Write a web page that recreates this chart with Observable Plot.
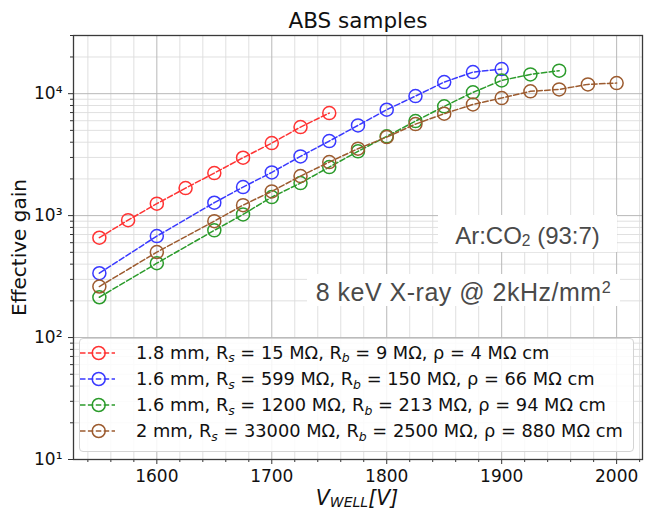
<!DOCTYPE html>
<html><head><meta charset="utf-8">
<script src="https://cdn.jsdelivr.net/npm/d3@7"></script>
<script src="https://cdn.jsdelivr.net/npm/@observablehq/plot@0.6"></script>
<style>
body{margin:0;background:#fff;}
#wrap{position:relative;width:664px;height:520px;font-family:"DejaVu Sans",sans-serif;color:#111;}
#wrap svg{position:absolute;left:0;top:0;}
.note{position:absolute;background:#fff;font-family:"Liberation Sans",Arial,sans-serif;font-size:24px;color:#4a4a4a;text-align:center;white-space:nowrap;}
.note span{position:absolute;left:0;right:0;line-height:1.117em;}
.note sub{font-size:0.65em;vertical-align:baseline;position:relative;top:0.12em;}
.note sup{font-size:0.65em;vertical-align:baseline;position:relative;top:-0.45em;}
#legend{position:absolute;left:79px;top:338px;width:555px;height:114px;box-sizing:border-box;background:rgba(255,255,255,0.85);border:1px solid #d4d4d4;border-radius:4px;}
.row{position:absolute;left:0;height:26px;line-height:26px;font-size:17.8px;white-space:nowrap;}
.row svg{position:absolute;left:5px;top:0;}
.row .lbl{position:absolute;left:56px;top:0;}
.row sub{font-size:0.7em;vertical-align:baseline;position:relative;top:0.28em;font-style:italic;}
#xlabel{position:absolute;left:257px;width:200px;top:487px;text-align:center;font-size:20.5px;line-height:1.164em;font-style:italic;white-space:nowrap;}
#xlabel sub{font-size:14px;vertical-align:baseline;position:relative;top:1.5px;}
</style></head><body><div id="wrap"></div>
<script>
// ---- data ----
const thickness = ["1.8", "1.6", "1.6", "2"];
const rsValues = ["15", "599", "1200", "33000"];
const rbValues = ["9", "150", "213", "2500"];
const rhoValues = ["4", "66", "94", "880"];
const seriesColors = ["#ff3333", "#3939ff", "#2b9b2b", "#9c5b2f"];

const voltsRed = [1550, 1575, 1600, 1625, 1650, 1675, 1700, 1725, 1750];
const gainRed = [659, 918, 1253, 1681, 2233, 2985, 3934, 5321, 6934];

const voltsBlue = [1550, 1600, 1650, 1675, 1700, 1725, 1750, 1775, 1800, 1825, 1850, 1875, 1900];
const gainBlue = [337, 679, 1276, 1713, 2262, 3060, 4084, 5495, 7389, 9550, 12450, 15030, 15920];

const voltsGreen = [1550, 1600, 1650, 1675, 1700, 1725, 1750, 1775, 1800, 1825, 1850, 1875, 1900, 1925, 1950];
const gainGreen = [214, 407, 757, 1023, 1419, 1849, 2500, 3365, 4467, 5957, 7870, 10250, 12850, 14390, 15450];

const voltsBrown = [1550, 1600, 1650, 1675, 1700, 1725, 1750, 1775, 1800, 1825, 1850, 1875, 1900, 1925, 1950, 1975, 2000];
const gainBrown = [262, 502, 901, 1219, 1580, 2110, 2747, 3539, 4406, 5630, 6853, 8163, 9204, 10450, 10840, 11920, 12220];

const xMajorTicks = [1600, 1700, 1800, 1900, 2000];
const xMinorTicks = [1540, 1560, 1580, 1620, 1640, 1660, 1680, 1720, 1740, 1760, 1780, 1820, 1840, 1860, 1880, 1920, 1940, 1960, 1980, 2020];
const yMajorTicks = [10, 100, 1000, 10000];
const yMinorTicks = [20, 30, 40, 50, 60, 70, 80, 90, 200, 300, 400, 500, 600, 700, 800, 900,
  2000, 3000, 4000, 5000, 6000, 7000, 8000, 9000, 20000, 30000];
const superscripts = {1: "¹", 2: "²", 3: "³", 4: "⁴"};

const titleText = "ABS samples";
const yLabelText = "Effective gain";

// ---- build ----
const volts = [voltsRed, voltsBlue, voltsGreen, voltsBrown];
const gains = [gainRed, gainBlue, gainGreen, gainBrown];
const series = volts.map((vs, i) => vs.map((v, j) => ({v, g: gains[i][j]})));

const dataMarks = [];
series.forEach((data, i) => {
  dataMarks.push(Plot.line(data, {x: "v", y: "g", stroke: seriesColors[i], strokeWidth: 1.5, strokeDasharray: "5.5,2.4"}));
  dataMarks.push(Plot.dot(data, {x: "v", y: "g", stroke: seriesColors[i], strokeWidth: 1.5, r: 6.5, fill: "none"}));
});

const chart = Plot.plot({
  width: 664,
  height: 520,
  marginLeft: 73,
  marginRight: 22,
  marginTop: 35,
  marginBottom: 61,
  style: {fontFamily: "DejaVu Sans", fontSize: "17px", background: "transparent", color: "#111", overflow: "visible"},
  x: {domain: [1527.5, 2022.5]},
  y: {type: "log", domain: [10, 30000]},
  marks: [
    Plot.gridX(xMinorTicks, {stroke: "#dcdcdc", strokeOpacity: 1, strokeWidth: 0.9}),
    Plot.gridY(yMinorTicks, {stroke: "#dcdcdc", strokeOpacity: 1, strokeWidth: 0.9}),
    Plot.gridX(xMajorTicks, {stroke: "#b8b8b8", strokeOpacity: 1, strokeWidth: 1}),
    Plot.gridY(yMajorTicks, {stroke: "#b8b8b8", strokeOpacity: 1, strokeWidth: 1}),
    Plot.axisX(xMinorTicks, {tickSize: 3, tickFormat: () => "", label: null, stroke: "#333"}),
    Plot.axisX(xMajorTicks, {tickSize: 5, tickPadding: 5.5, tickFormat: d => String(d), label: null, fontSize: 17, stroke: "#333"}),
    Plot.axisY(yMinorTicks, {tickSize: 3, tickFormat: () => "", label: null, stroke: "#333"}),
    Plot.axisY(yMajorTicks, {tickSize: 5, tickPadding: 6, tickFormat: d => "10" + superscripts[Math.round(Math.log10(d))], label: null, fontSize: 17, stroke: "#333"}),
    ...dataMarks,
    Plot.frame({stroke: "#3a3a3a", strokeWidth: 1.3}),
    Plot.text([titleText], {frameAnchor: "top", dy: -8, fontSize: 21.5, lineAnchor: "bottom", fill: "#111"}),
    Plot.text([yLabelText], {frameAnchor: "left", dx: -48, rotate: -90, fontSize: 20, textAnchor: "middle", lineAnchor: "bottom", fill: "#111"})
  ]
});

const wrap = document.getElementById("wrap");
wrap.appendChild(chart);

// annotation boxes
const note1 = document.createElement("div");
note1.className = "note";
note1.style.cssText = "left:438px;top:215px;width:179px;height:37px;";
note1.innerHTML = '<span style="top:8.3px">Ar:CO<sub>2</sub> (93:7)</span>';
wrap.appendChild(note1);

const note2 = document.createElement("div");
note2.className = "note";
note2.style.cssText = "left:307px;top:274px;width:313px;height:32px;font-size:25px;letter-spacing:0.5px;";
note2.innerHTML = '<span style="top:4.5px">8 keV X-ray @ 2kHz/mm<sup>2</sup></span>';
wrap.appendChild(note2);

// legend
const legend = document.createElement("div");
legend.id = "legend";
thickness.forEach((t, i) => {
  const row = document.createElement("div");
  row.className = "row";
  row.style.top = (1 + i * 26.1) + "px";
  const c = seriesColors[i];
  row.innerHTML =
    `<svg width="40" height="26"><line x1="0" x2="35" y1="13" y2="13" stroke="${c}" stroke-width="1.5" stroke-dasharray="5.5,2.4"/>` +
    `<circle cx="18.7" cy="13" r="6.5" fill="none" stroke="${c}" stroke-width="1.5"/></svg>` +
    `<span class="lbl">${t} mm, R<sub>s</sub> = ${rsValues[i]} MΩ, R<sub>b</sub> = ${rbValues[i]} MΩ, ρ = ${rhoValues[i]} MΩ cm</span>`;
  legend.appendChild(row);
});
wrap.appendChild(legend);

// x label
const xl = document.createElement("div");
xl.id = "xlabel";
xl.innerHTML = "V<sub>WELL</sub>[V]";
wrap.appendChild(xl);
</script>
</body></html>
